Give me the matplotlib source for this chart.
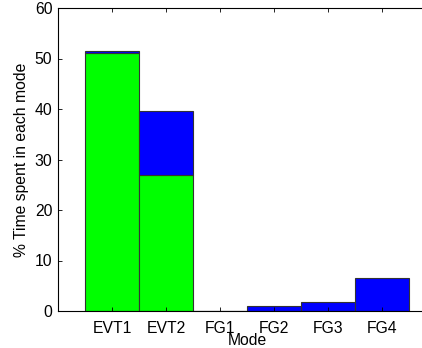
# stacked bars of time spent per mode
import matplotlib
matplotlib.use("Agg")
import matplotlib.pyplot as plt
import numpy as np

modes = ["EVT1", "EVT2", "FG1", "FG2", "FG3", "FG4"]
green_part = [51.1, 27.0, 0.0, 0.0, 0.0, 0.0]
blue_part = [0.4, 12.7, 0.0, 1.0, 1.85, 6.5]

plt.rcParams["font.family"] = ["Liberation Sans", "DejaVu Sans"]
plt.rcParams["font.size"] = 11.3

fig = plt.figure(figsize=(4.22, 3.48), dpi=100)
# axes run off the right edge like in the cropped original
ax = fig.add_axes([58 / 422, 37 / 348, 378 / 422, 303 / 348])

x = np.arange(1, len(modes) + 1)
ax.bar(x, green_part, width=1.0, color="#00ff00", edgecolor="#333333", linewidth=0.8)
ax.bar(x, blue_part, width=1.0, bottom=green_part, color="#0000ff",
       edgecolor="#333333", linewidth=0.8)

ax.set_xlim(0, 7)
ax.set_ylim(0, 60)
ax.set_xticks(x)
ax.set_xticklabels(modes)
ax.set_yticks(range(0, 61, 10))
ax.tick_params(direction="in", top=True, right=True, length=3, width=0.6)
ax.tick_params(axis="x", pad=7)
ax.tick_params(axis="y", pad=4)
for s in ax.spines.values():
    s.set_linewidth(0.8)
ax.set_xlabel("Mode", labelpad=-2)
ax.set_ylabel("% Time spent in each mode", labelpad=4)

fig.savefig("out.png", dpi=100)
